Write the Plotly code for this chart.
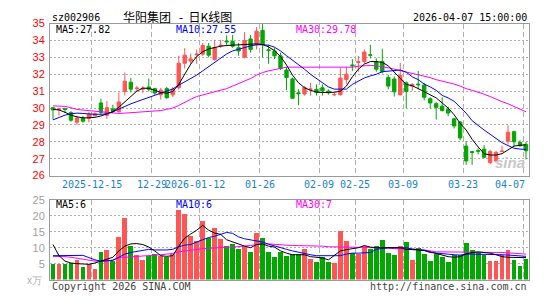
import plotly.graph_objects as go

# ---------------- data ----------------
date_idx = [7, 17, 25, 35, 45, 51, 59, 69, 79]
date_labels = ["2025-12-15", "12-29", "2026-01-12", "01-26", "02-09",
               "02-25", "03-09", "03-23", "04-07"]

opens = [30.02, 29.90, 29.98, 29.73, 29.16, 29.41, 29.40, 29.55, 30.30, 29.57,
         29.95, 29.79, 30.98, 31.53, 31.15, 31.12, 31.25, 31.15, 30.78, 31.15,
         30.78, 31.20, 32.65, 32.78, 33.15, 33.19, 33.66, 32.87, 33.68, 33.97,
         33.94, 33.57, 33.00, 34.09, 33.75, 34.60, 33.45, 33.38, 33.09, 32.25,
         31.72, 30.90, 30.83, 31.10, 31.11, 31.20, 31.00, 30.78, 30.79, 31.68,
         32.55, 32.70, 32.75, 33.15, 32.75, 32.75, 31.81, 31.72, 30.79, 31.49,
         31.30, 31.42, 31.36, 30.55, 30.26, 30.11, 29.92, 29.36, 29.17, 27.75,
         27.42, 27.49, 27.57, 26.77, 26.87, 27.42, 28.04, 28.60, 27.96, 27.85]
highs = [30.05, 30.00, 30.00, 29.82, 29.54, 29.54, 29.76, 29.75, 30.55, 30.41,
         30.20, 30.93, 32.10, 31.78, 31.31, 31.30, 31.75, 31.20, 31.20, 31.25,
         31.25, 33.10, 33.55, 33.23, 33.47, 33.85, 33.85, 34.04, 34.04, 34.30,
         34.32, 33.85, 34.50, 34.32, 34.79, 34.98, 33.75, 33.57, 33.28, 32.43,
         31.81, 31.11, 31.30, 31.49, 31.40, 31.40, 31.10, 30.90, 32.38, 32.43,
         32.90, 33.09, 33.47, 33.75, 32.94, 33.51, 31.96, 31.87, 32.68, 31.58,
         31.49, 32.19, 31.49, 30.64, 30.36, 30.64, 30.08, 29.42, 29.23, 28.04,
         27.45, 27.62, 27.81, 27.53, 27.47, 27.77, 28.98, 28.66, 28.09, 28.00]
lows = [29.32, 29.55, 29.70, 29.18, 28.99, 29.13, 29.15, 29.50, 29.60, 29.36,
        29.70, 29.69, 30.74, 30.93, 30.98, 30.90, 30.98, 30.78, 30.50, 30.55,
        30.65, 31.10, 32.34, 32.62, 32.62, 33.09, 33.00, 32.81, 33.55, 33.66,
        33.57, 33.09, 32.94, 33.28, 33.47, 33.00, 32.62, 32.90, 32.25, 31.06,
        30.55, 30.17, 30.74, 30.74, 30.74, 30.74, 30.80, 30.70, 30.74, 31.43,
        32.19, 32.15, 32.62, 32.94, 32.15, 32.06, 31.11, 30.68, 30.74, 29.98,
        31.02, 31.11, 30.45, 29.98, 29.32, 29.79, 29.51, 28.79, 28.09, 26.64,
        26.64, 27.25, 27.02, 26.68, 26.77, 27.40, 27.85, 27.72, 27.72, 26.96]
closes = [29.89, 29.95, 29.92, 29.28, 29.41, 29.22, 29.64, 29.66, 29.74, 30.02,
          29.80, 30.36, 31.59, 31.12, 31.18, 31.17, 31.12, 30.89, 31.06, 30.61,
          31.12, 32.65, 33.13, 32.91, 33.19, 33.70, 33.13, 33.57, 33.72, 33.92,
          33.66, 33.38, 34.00, 33.47, 34.55, 33.75, 33.40, 33.09, 32.34, 31.81,
          30.58, 30.85, 31.21, 31.13, 30.92, 31.02, 30.90, 30.80, 31.77, 32.00,
          32.50, 32.75, 33.32, 33.13, 32.30, 32.15, 31.30, 30.96, 31.92, 30.98,
          31.40, 31.38, 30.64, 30.30, 30.04, 29.85, 29.70, 28.94, 28.23, 26.87,
          27.38, 27.45, 27.09, 27.43, 27.38, 27.45, 28.57, 28.00, 27.77, 27.47]

ma5 = [29.92, 29.89, 29.75, 29.58, 29.48, 29.42, 29.42, 29.45, 29.53, 29.65,
       29.78, 30.05, 30.38, 30.72, 31.00, 31.18, 31.16, 31.05, 30.92, 30.88,
       30.98, 31.40, 32.00, 32.60, 33.05, 33.33, 33.50, 33.60, 33.66, 33.70,
       33.72, 33.75, 33.76, 33.78, 33.80, 33.76, 33.62, 33.40, 33.05, 32.55,
       31.95, 31.50, 31.20, 31.05, 30.95, 30.92, 30.92, 30.93, 31.00, 31.30,
       31.85, 32.30, 32.60, 32.75, 32.75, 32.70, 32.50, 32.10, 31.75, 31.40,
       31.32, 31.15, 30.95, 30.75, 30.60, 30.30, 30.00, 29.60, 29.10, 28.70,
       28.15, 27.70, 27.30, 27.22, 27.22, 27.30, 27.55, 27.75, 27.80, 27.82]
ma10 = [29.30, 29.45, 29.58, 29.66, 29.70, 29.68, 29.64, 29.63, 29.63, 29.66,
        29.78, 29.95, 30.08, 30.25, 30.38, 30.50, 30.62, 30.75, 30.90, 31.02,
        31.13, 31.35, 31.55, 31.70, 31.95, 32.20, 32.45, 32.70, 32.90, 33.20,
        33.38, 33.50, 33.58, 33.68, 33.74, 33.75, 33.72, 33.60, 33.38, 33.10,
        32.85, 32.55, 32.30, 32.00, 31.75, 31.45, 31.25, 31.12, 31.10, 31.12,
        31.40, 31.60, 31.78, 31.90, 32.00, 32.15, 32.18, 32.20, 32.25, 32.12,
        31.85, 31.68, 31.42, 31.25, 31.05, 30.75, 30.60, 30.40, 30.05, 29.70,
        29.25, 28.95, 28.70, 28.45, 28.20, 27.95, 27.78, 27.62, 27.57, 27.55]
ma30 = [30.13, 30.13, 30.10, 30.02, 29.92, 29.88, 29.85, 29.80, 29.75, 29.72,
        29.70, 29.68, 29.70, 29.72, 29.74, 29.76, 29.78, 29.80, 29.85, 29.92,
        30.00, 30.15, 30.35, 30.52, 30.68, 30.78, 30.86, 30.95, 31.05, 31.15,
        31.30, 31.45, 31.60, 31.75, 31.95, 32.10, 32.20, 32.28, 32.38, 32.42,
        32.42, 32.42, 32.42, 32.42, 32.42, 32.42, 32.42, 32.42, 32.42, 32.42,
        32.42, 32.48, 32.52, 32.52, 32.50, 32.45, 32.38, 32.30, 32.22, 32.15,
        32.05, 31.96, 31.88, 31.80, 31.68, 31.60, 31.52, 31.42, 31.30, 31.15,
        31.05, 30.95, 30.82, 30.68, 30.52, 30.38, 30.25, 30.10, 29.95, 29.78]

vol = [5.0, 5.0, 5.0, 5.3, 6.2, 4.0, 5.0, 3.3, 8.7, 9.3,
       5.8, 13.3, 19.3, 10.5, 7.8, 6.3, 7.5, 8.2, 7.5, 7.2,
       8.2, 22.0, 20.7, 13.8, 12.0, 18.4, 13.0, 16.2, 12.7, 10.5,
       11.2, 9.7, 10.7, 8.7, 14.7, 13.0, 8.7, 7.0, 8.7, 7.5,
       8.0, 8.0, 9.5, 6.5, 5.7, 7.2, 5.7, 5.3, 15.3, 12.0,
       8.5, 8.2, 10.5, 9.7, 10.5, 12.3, 8.5, 7.8, 10.5, 11.7,
       6.3, 10.0, 8.2, 6.0, 8.0, 7.0, 5.5, 7.7, 7.7, 11.5,
       9.3, 8.7, 7.7, 6.0, 5.8, 7.7, 9.3, 6.3, 4.3, 6.5]
vma5 = [11.0, 7.5, 5.8, 5.2, 5.0, 5.0, 4.8, 5.2, 5.8, 6.4,
        7.0, 9.0, 10.5, 11.2, 11.3, 11.0, 10.2, 9.0, 7.5, 7.3,
        7.5, 10.5, 13.0, 14.3, 15.5, 17.0, 15.5, 14.6, 14.2, 12.5,
        11.8, 11.2, 10.5, 10.0, 11.0, 11.2, 10.5, 10.2, 9.0, 8.3,
        7.8, 7.8, 7.8, 7.2, 7.0, 6.8, 6.2, 7.5, 9.0, 9.4,
        9.8, 10.0, 10.7, 10.2, 10.0, 10.0, 10.0, 10.0, 10.0, 9.5,
        9.5, 9.3, 9.2, 8.7, 8.2, 7.5, 7.2, 7.0, 7.2, 8.0,
        8.5, 8.7, 8.6, 8.3, 7.8, 7.2, 7.0, 7.0, 7.0, 6.9]
vma10 = [7.5, 7.5, 7.5, 7.6, 7.7, 7.6, 6.9, 6.2, 5.8, 5.8,
         6.0, 7.0, 8.0, 8.5, 8.8, 9.3, 9.5, 9.3, 9.2, 9.3,
         9.5, 10.3, 10.8, 11.0, 11.8, 12.6, 13.2, 13.6, 14.2, 14.8,
         14.5, 13.4, 12.8, 12.4, 12.2, 11.8, 11.1, 10.5, 10.1, 9.5,
         9.0, 8.6, 8.0, 7.8, 7.5, 7.5, 7.3, 7.3, 7.5, 8.0,
         8.3, 8.3, 8.3, 8.5, 9.5, 9.8, 10.0, 10.0, 10.0, 10.0,
         9.6, 9.4, 9.1, 8.5, 8.3, 8.0, 7.9, 7.8, 7.7, 8.0,
         8.0, 8.0, 8.0, 8.0, 8.0, 7.8, 7.7, 7.6, 7.4, 7.3]
vma30 = [7.3, 7.3, 7.2, 7.0, 6.7, 6.4, 6.0, 5.8, 5.7, 5.8,
         6.2, 7.0, 7.0, 7.1, 7.2, 7.3, 7.5, 7.7, 7.8, 8.0,
         8.2, 8.7, 9.0, 9.2, 9.5, 9.7, 9.8, 10.0, 10.1, 10.2,
         10.2, 10.3, 10.5, 10.7, 11.0, 11.3, 11.2, 11.0, 10.9, 10.8,
         10.7, 10.7, 10.7, 10.7, 10.7, 10.5, 10.3, 10.3, 10.3, 10.3,
         10.3, 10.2, 10.1, 10.0, 10.0, 10.0, 9.9, 9.7, 9.7, 9.7,
         9.6, 9.5, 9.3, 9.0, 8.7, 8.7, 8.7, 8.6, 8.5, 8.5,
         8.5, 8.5, 8.5, 8.5, 8.5, 8.5, 8.4, 8.3, 8.2, 8.0]

price_ticks = [26, 27, 28, 29, 30, 31, 32, 33, 34, 35]
vol_ticks = [5, 10, 15, 20, 25]

title_code = "sz002906"
title_name = "华阳集团&nbsp;&nbsp;&nbsp;-&nbsp;&nbsp;日K线图"
title_time = "2026-04-07 15:00:00"
ma_price_labels = ["MA5:27.82", "MA10:27.55", "MA30:29.78"]
ma_vol_labels = ["MA5:6", "MA10:6", "MA30:7"]

# ---------------- style ----------------
W, H = 545, 300
RED = "#ff5555"
GREEN = "#00a800"
C5, C10, C30 = "#000000", "#0000ff", "#ff00ff"
GRID = "#b0b0b0"
BORDER = "#9a9a9a"
MONO = "DejaVu Sans Mono"
SANS = "Liberation Sans"


def px(x):
    return x / W


def py(y):
    return 1 - y / H


n = len(closes)
xs = list(range(n))
vcolors = [RED if c >= o else GREEN for o, c in zip(opens, closes)]
grid_x = [i - 0.5 for i in date_idx]

fig = go.Figure()
fig.add_trace(go.Candlestick(
    x=xs, open=opens, high=highs, low=lows, close=closes,
    increasing=dict(line=dict(color=RED, width=1), fillcolor=RED),
    decreasing=dict(line=dict(color=GREEN, width=1), fillcolor=GREEN),
    whiskerwidth=0, hoverinfo="skip", xaxis="x", yaxis="y"))
for arr, col in [(ma30, C30), (ma10, C10), (ma5, C5)]:
    fig.add_trace(go.Scatter(x=xs, y=arr, mode="lines",
                             line=dict(color=col, width=1),
                             hoverinfo="skip", xaxis="x", yaxis="y"))

fig.add_trace(go.Bar(x=xs, y=vol, marker=dict(color=vcolors, line=dict(width=0)),
                     width=0.8, hoverinfo="skip", xaxis="x2", yaxis="y2"))
for arr, col in [(vma30, C30), (vma10, C10), (vma5, C5)]:
    fig.add_trace(go.Scatter(x=xs, y=arr, mode="lines",
                             line=dict(color=col, width=1),
                             hoverinfo="skip", xaxis="x2", yaxis="y2"))

xdom = [px(50), px(529)]
common_x = dict(range=[-0.5, n - 0.5], showticklabels=False, ticks="",
                tickmode="array", tickvals=grid_x, showgrid=True,
                gridcolor=GRID, griddash="5px,3px", gridwidth=1,
                showline=True, linecolor=BORDER, linewidth=1, mirror=True,
                zeroline=False, fixedrange=True, domain=xdom)

fig.update_layout(
    width=W, height=H, margin=dict(l=0, r=0, t=0, b=0),
    paper_bgcolor="white", plot_bgcolor="white",
    showlegend=False, boxgap=0.2, bargap=0,
    xaxis=dict(anchor="y", rangeslider=dict(visible=False), **common_x),
    xaxis2=dict(anchor="y2", **common_x),
    yaxis=dict(domain=[py(176.7), py(18.3)], range=[26, 35], anchor="x",
               tickmode="array", tickvals=price_ticks,
               ticktext=[str(t) for t in price_ticks],
               tickfont=dict(family=SANS, size=11, color="#ff0000"),
               ticks="", ticklabelstandoff=2,
               showgrid=True, gridcolor=GRID, griddash="2px,2px",
               showline=True, linecolor=BORDER, linewidth=1, mirror=True,
               zeroline=False, fixedrange=True),
    yaxis2=dict(domain=[py(285), py(202)], range=[0, 25], anchor="x2",
                tickmode="array", tickvals=vol_ticks,
                ticktext=[str(t) for t in vol_ticks],
                tickfont=dict(family=SANS, size=11, color="#a0a0a0"),
                ticks="", ticklabelstandoff=2,
                showgrid=True, gridcolor=GRID, griddash="2px,2px",
                showline=True, linecolor=BORDER, linewidth=1, mirror=True,
                zeroline=False, fixedrange=True),
)

ann = []
# header
ann.append(dict(x=px(50), y=py(12), text=title_code, xanchor="left", yanchor="middle",
                font=dict(family=MONO, size=10, color="#000")))
ann.append(dict(x=px(121), y=py(11), text=title_name, xanchor="left", yanchor="middle",
                font=dict(family="Noto Sans CJK SC", size=12, color="#000")))
ann.append(dict(x=px(529), y=py(12), text=title_time, xanchor="right", yanchor="middle",
                font=dict(family=MONO, size=10, color="#000")))
# MA labels
for lab, col, x0 in zip(ma_price_labels, [C5, C10, C30], [54, 174, 294]):
    ann.append(dict(x=px(x0), y=py(24.5), text=lab, xanchor="left", yanchor="middle",
                    font=dict(family=MONO, size=10, color=col)))
for lab, col, x0 in zip(ma_vol_labels, [C5, C10, C30], [54, 174, 294]):
    ann.append(dict(x=px(x0), y=py(206.5), text=lab, xanchor="left", yanchor="middle",
                    font=dict(family=MONO, size=10, color=col)))
# date labels (data coordinates on x)
for k, (i, lab) in enumerate(zip(date_idx, date_labels)):
    shift = 0
    xa = "center"
    if lab == "2026-01-12":
        shift = -5
    if k == len(date_idx) - 1:
        xa = "right"
        shift = 4
    ann.append(dict(x=i - 0.5, xref="x", y=py(186), yref="paper", text=lab,
                    xanchor=xa, yanchor="middle", xshift=shift,
                    font=dict(family=MONO, size=10, color="#1a7fd4")))
# footer
ann.append(dict(x=px(50), y=py(292), text="Copyright 2026 SINA.COM", xanchor="left",
                yanchor="middle", font=dict(family=MONO, size=10, color="#444")))
ann.append(dict(x=px(529), y=py(292), text="http://finance.sina.com.cn", xanchor="right",
                yanchor="middle", font=dict(family=MONO, size=10, color="#444")))
ann.append(dict(x=px(44), y=py(286), text="x万", xanchor="right", yanchor="middle",
                font=dict(family=SANS, size=10, color="#b0b0b0")))
# watermark
ann.append(dict(x=px(527), y=py(163), text="<b><i>sina</i></b>", xanchor="right",
                yanchor="middle", font=dict(family=SANS, size=15, color="#c8c8c8")))

for a in ann:
    a.setdefault("xref", "paper")
    a.setdefault("yref", "paper")
    a["showarrow"] = False
fig.update_layout(annotations=ann)

fig.write_html("out.html")
